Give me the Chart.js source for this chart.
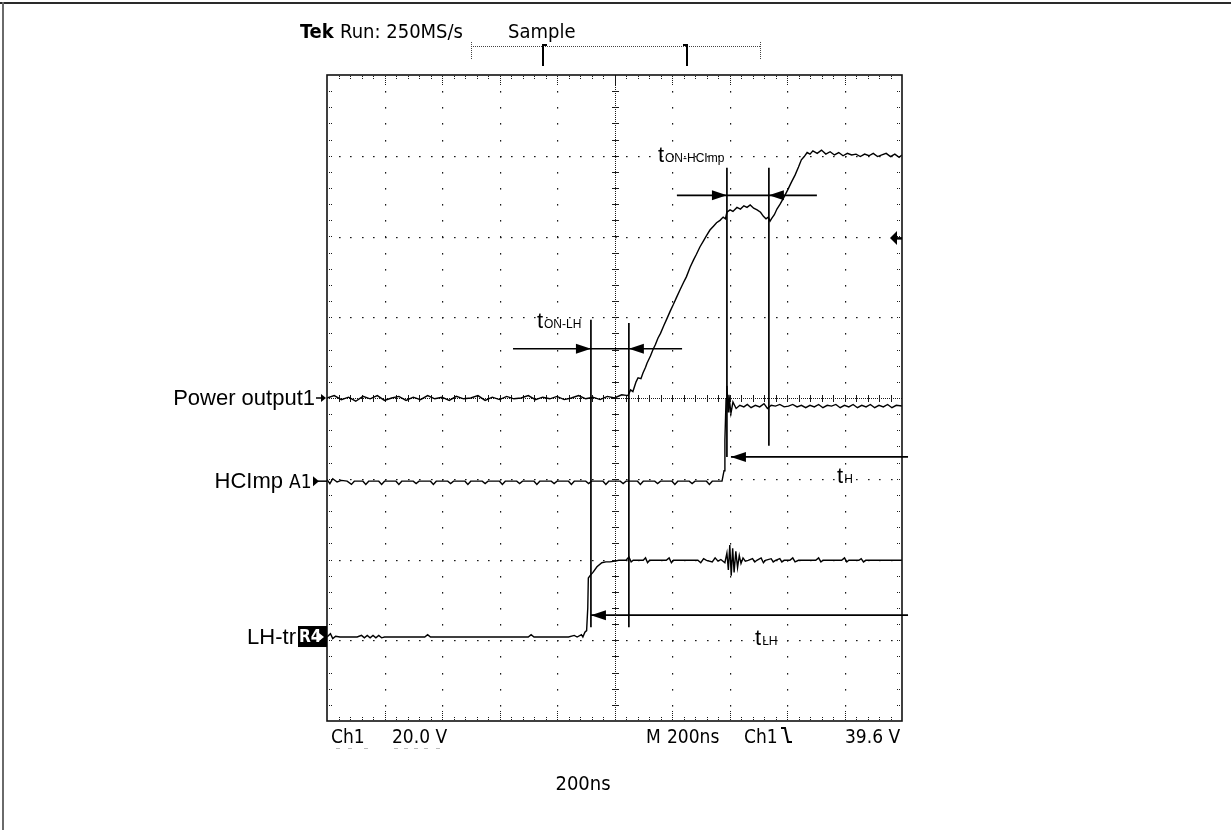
<!DOCTYPE html>
<html><head><meta charset="utf-8">
<script src="https://cdn.jsdelivr.net/npm/chart.js@4/dist/chart.umd.min.js"></script>
<style>html,body{margin:0;padding:0;background:#fff;overflow:hidden}#wrap{position:relative;width:1231px;height:830px}</style>
</head><body><div id="wrap"><canvas id="c" width="1231" height="830"></canvas></div>
<script>
// ---- screen: time in ns (200 ns/div, 10 div), level in divisions (0..8) ----
const timeTicks = [0,200,400,600,800,1000,1200,1400,1600,1800,2000];
const levelTicks = [0,1,2,3,4,5,6,7,8];

// Ch1 : Power output1
const ch1Time = [0,25,50,75,100,125,150,175,200,225,250,275,300,325,350,375,400,425,450,475,500,525,550,575,600,625,650,675,700,725,750,775,800,825,850,875,900,925,950,975,1000,1025,
 1047,1056,1064,1075,1082,1092,1099,1108,1113,1125,1134,1142,1151,1160,1172,1182,1193,1205,1215,1228,1240,1250,1263,1275,1285,1297,1310,1320,1332,1345,1355,1367,1378,1386,1391,1402,1412,1426,1438,1450,1461,1472,1484,1496,1508,1518,1527,1535,1541,1548,1556,1565,1576,1590,1603,1615,1628,1640,1650,1660,1670,1680,1690,
 1705,1720,1735,1750,1765,1780,1795,1810,1825,1840,1855,1870,1885,1900,1915,1930,1945,1960,1975,1990,2000];
const ch1Level = [4.00,4.03,3.98,4.01,3.96,4.02,3.99,4.03,3.97,4.00,4.02,3.97,4.01,3.98,4.03,3.99,4.01,3.97,4.02,3.99,4.00,4.03,3.97,4.01,3.98,4.02,3.99,4.00,4.03,3.98,4.01,3.99,4.02,3.98,4.00,4.03,3.99,4.01,3.98,4.02,4.00,4.04,
 4.03,4.10,4.08,4.20,4.25,4.24,4.31,4.38,4.43,4.52,4.60,4.66,4.74,4.80,4.90,4.98,5.07,5.16,5.24,5.34,5.43,5.50,5.62,5.71,5.78,5.87,5.95,6.01,6.08,6.13,6.17,6.20,6.24,6.22,6.30,6.33,6.31,6.36,6.34,6.38,6.36,6.39,6.35,6.33,6.30,6.25,6.22,6.24,6.19,6.23,6.27,6.34,6.40,6.49,6.58,6.67,6.76,6.86,6.95,6.99,7.04,7.02,7.06,
 7.03,7.07,7.02,7.05,7.01,7.04,7.00,7.03,7.01,7.02,6.99,7.02,7.00,7.03,6.99,7.01,7.03,6.99,7.02,6.98,7.01];

// A1 : HCImp
const ch2Time = [0,10,20,35,50,70,85,95,125,135,145,180,190,200,240,250,260,300,310,320,360,370,380,420,430,440,480,490,500,540,550,560,600,610,620,660,670,680,720,730,740,780,790,800,840,850,860,900,910,920,960,970,980,1020,1030,1040,1080,1090,1100,1140,1150,1160,1200,1210,1220,1260,1270,1280,1320,1330,1340,1374,
 1381,1384,1388,1391,1395,1398,1405,1412,1423,1436,
 1450,1462,1475,1490,1505,1520,1532,1545,1560,1575,1590,1605,1620,1635,1650,1665,1680,1695,1710,1725,1740,1755,1770,1785,1800,1815,1830,1845,1860,1875,1890,1905,1920,1935,1950,1965,1980,2000];
const ch2Level = [2.99,2.94,3.00,2.96,2.98,2.97,2.93,2.97,2.97,2.93,2.97,2.97,2.93,2.97,2.97,2.93,2.97,2.97,2.94,2.97,2.97,2.93,2.97,2.97,2.94,2.97,2.97,2.93,2.97,2.97,2.94,2.97,2.97,2.93,2.97,2.97,2.94,2.97,2.97,2.93,2.97,2.97,2.94,2.97,2.97,2.93,2.97,2.97,2.94,2.97,2.97,2.93,2.97,2.97,2.94,2.97,2.97,2.93,2.97,2.97,2.94,2.97,2.97,2.93,2.97,2.97,2.94,2.97,2.97,2.93,2.97,2.97,
 3.10,3.48,3.98,4.15,3.83,4.04,3.81,3.95,3.87,3.91,
 3.89,3.92,3.88,3.91,3.89,3.93,3.87,3.91,3.90,3.92,3.89,3.90,3.92,3.89,3.91,3.88,3.91,3.89,3.92,3.88,3.91,3.90,3.92,3.88,3.91,3.89,3.92,3.88,3.91,3.89,3.92,3.88,3.91,3.89,3.92,3.88,3.91,3.90];

// R4 : LH-tr
const ch3Time = [0,12,20,30,45,60,75,90,105,120,130,140,150,160,170,180,190,200,250,300,340,350,360,420,480,540,600,660,700,710,720,780,840,860,870,885,890,
 897,903,907,909,915,925,939,956,970,984,1002,1015,1040,1050,1058,1065,1100,1108,1115,1122,1180,1190,1198,1205,1290,1300,1310,1320,1340,1350,1360,1370,
 1384,1391,1396,1401,1406,1411,1416,1422,1428,1434,1440,1447,1455,1465,
 1480,1488,1495,1510,1518,1525,1545,1552,1560,1575,1582,1590,1610,1620,1628,1640,1700,1710,1718,1725,1790,1800,1808,1815,1850,1858,1866,1874,1950,2000];
const ch3Level = [1.04,1.08,1.02,1.05,1.04,1.04,1.04,1.04,1.04,1.06,1.03,1.06,1.03,1.06,1.03,1.06,1.03,1.04,1.04,1.04,1.04,1.07,1.04,1.04,1.04,1.04,1.04,1.04,1.04,1.07,1.04,1.04,1.04,1.06,1.04,1.07,1.04,
 1.10,1.12,1.40,1.77,1.80,1.84,1.91,1.96,1.97,1.97,1.98,1.99,1.99,2.03,1.97,1.99,1.99,2.02,1.96,1.99,1.99,2.02,1.96,1.99,1.99,1.96,2.01,1.99,1.97,2.02,1.98,2.00,
 1.96,2.08,1.87,2.18,1.80,2.14,1.84,2.10,1.90,2.05,1.95,2.02,1.98,1.99,
 2.01,1.97,1.99,2.02,1.96,1.99,2.01,1.97,1.99,2.01,1.97,1.99,1.99,2.02,1.97,1.99,1.99,2.02,1.97,1.99,1.99,2.02,1.97,1.99,1.99,2.01,1.97,1.99,1.99,1.99];

// channel markers on the left
const channelName = ['Power output1','HCImp','LH-tr'];
const channelTag = ['','A1','R4'];
const channelLevel = [4.00,2.97,1.04];
const triggerLevel = 5.98;

// measurement cursors (vertical lines)
const cursorTime = [918,1050,1391,1537];
const cursorTop = [4.97,4.93,6.85,6.85];
const cursorBottom = [1.16,1.16,3.27,3.41];

// measurement arrows
const arrowLevel = [4.61,6.51,3.27,1.31];
const arrowStart = [647,1217,2021,2021];
const arrowEnd = [1235,1704,1405,918];
const arrowTips = [[918,1050],[1391,1537],[1405],[918]];
const arrowDirs = [[1,-1],[1,-1],[-1],[-1]];

// measurement labels
const labelSub = ['ON-LH','ON-HCImp','H','LH'];
const labelTime = [730,1151,1774,1489];
const labelLevel = [4.87,6.92,2.95,0.94];

const headerBold = 'Tek';
const headerRun = 'Run: 250MS/s';
const headerMode = 'Sample';
const footerLeft = ['Ch1','20.0 V'];
const footerRight = ['M','200ns','Ch1','39.6 V'];
const footerCenter = '200ns';

const SCOPE = '"DejaVu Sans Condensed", "DejaVu Sans", sans-serif';
const ARIAL = '"Liberation Sans", Arial, sans-serif';

function series(t, v){ return t.map((x,i)=>({x:x,y:v[i]})); }

const scopePlugin = {
  id:'scope',
  beforeDraw(chart){
    const ctx = chart.ctx;
    ctx.save(); ctx.fillStyle='#fff'; ctx.fillRect(0,0,chart.width,chart.height);
    ctx.fillStyle='#2a2a2a'; ctx.fillRect(0,2,chart.width,2);
    ctx.fillStyle='#6a6a6a'; ctx.fillRect(2,2,2,chart.height);
    ctx.restore();
  },
  beforeDatasetsDraw(chart){
    const ctx = chart.ctx, xs = chart.scales.x, ys = chart.scales.y, a = chart.chartArea;
    ctx.save();
    ctx.fillStyle = '#1a1a1a';
    const minorT = 40, minorV = 0.2;
    timeTicks.forEach((t,i)=>{
      if(i===0||i===timeTicks.length-1||t===1000) return;
      const X = Math.round(xs.getPixelForValue(t));
      for(let v=minorV; v<8-0.01; v+=minorV){ ctx.fillRect(X, Math.round(ys.getPixelForValue(v)), 1.2, 1.6); }
    });
    levelTicks.forEach((v,i)=>{
      if(i===0||i===levelTicks.length-1||v===4) return;
      const Y = Math.round(ys.getPixelForValue(v));
      for(let t=minorT; t<2000-1; t+=minorT){ ctx.fillRect(Math.round(xs.getPixelForValue(t)), Y, 1.6, 1.2); }
    });
    const cx = Math.round(xs.getPixelForValue(1000)), cy = Math.round(ys.getPixelForValue(4));
    for(let y=a.top; y<a.bottom; y+=2) ctx.fillRect(cx, y, 1, 1);
    for(let v=minorV; v<8-0.01; v+=minorV) ctx.fillRect(cx-3, Math.round(ys.getPixelForValue(v)), 7, 1);
    for(let x=a.left; x<a.right; x+=2) ctx.fillRect(x, cy, 1, 1);
    for(let t=minorT; t<2000-1; t+=minorT) ctx.fillRect(Math.round(xs.getPixelForValue(t)), cy-3, 1, 7);
    for(let t=minorT; t<2000-1; t+=minorT){
      const X = Math.round(xs.getPixelForValue(t));
      const major = Math.abs((t/200)-Math.round(t/200))<1e-6;
      const len = major?9:4;
      for(let k=0;k<len;k+=2){ ctx.fillRect(X, a.top+1+k, 1, 1); ctx.fillRect(X, a.bottom-2-k, 1, 1); }
    }
    for(let v=minorV; v<8-0.01; v+=minorV){
      const Y = Math.round(ys.getPixelForValue(v));
      ctx.fillRect(a.left+2, Y, 1, 1); ctx.fillRect(a.left+4, Y, 1, 1);
      ctx.fillRect(a.right-3, Y, 1, 1); ctx.fillRect(a.right-5, Y, 1, 1);
    }
    ctx.restore();
  },
  afterDatasetsDraw(chart){
    const ctx = chart.ctx, xs = chart.scales.x, ys = chart.scales.y, a = chart.chartArea;
    const px = t=>xs.getPixelForValue(t), py = v=>ys.getPixelForValue(v);
    ctx.save();
    ctx.strokeStyle='#111'; ctx.lineWidth=1.6;
    ctx.strokeRect(a.left, a.top, a.right-a.left, a.bottom-a.top);
    // trigger level marker (right edge)
    const ty = py(triggerLevel);
    ctx.fillStyle='#000';
    ctx.beginPath(); ctx.moveTo(a.right-12, ty); ctx.lineTo(a.right-5, ty-7); ctx.lineTo(a.right-5, ty+7); ctx.closePath(); ctx.fill();
    ctx.fillRect(a.right-6, ty-1, 6, 2.5);
    // cursors
    ctx.strokeStyle='#000'; ctx.lineWidth=1.7;
    cursorTime.forEach((t,i)=>{
      ctx.beginPath(); ctx.moveTo(px(t), py(cursorTop[i])); ctx.lineTo(px(t), py(cursorBottom[i])); ctx.stroke();
    });
    // arrows
    arrowLevel.forEach((v,i)=>{
      const y = py(v);
      ctx.beginPath(); ctx.moveTo(px(arrowStart[i]), y); ctx.lineTo(px(arrowEnd[i]), y); ctx.stroke();
      arrowTips[i].forEach((t,j)=>{
        const x = px(t), d = arrowDirs[i][j];
        ctx.beginPath(); ctx.moveTo(x, y); ctx.lineTo(x-d*15, y-5); ctx.lineTo(x-d*15, y+5); ctx.closePath(); ctx.fill();
      });
    });
    // measurement labels
    ctx.textBaseline='alphabetic'; ctx.textAlign='left';
    labelSub.forEach((s,i)=>{
      const x = px(labelTime[i]), y = py(labelLevel[i]);
      ctx.font = '22px '+ARIAL; ctx.fillText('t', x, y);
      const w = ctx.measureText('t').width;
      ctx.font = '12px '+ARIAL; ctx.fillText(s, x+w+1, y);
    });
    // channel labels on the left
    channelName.forEach((n,i)=>{
      const y = py(channelLevel[i]);
      ctx.fillStyle='#000';
      if(i===0){
        ctx.font='22px '+ARIAL; ctx.textAlign='right'; ctx.textBaseline='middle';
        ctx.fillText(n, a.left-12, y+1);
        ctx.fillRect(a.left-11, y-0.75, 8, 1.5);
        ctx.beginPath(); ctx.moveTo(a.left-1, y); ctx.lineTo(a.left-6, y-4); ctx.lineTo(a.left-6, y+4); ctx.closePath(); ctx.fill();
      } else if(i===1){
        ctx.font='22px '+ARIAL; ctx.textAlign='right'; ctx.textBaseline='middle';
        ctx.fillText(n, a.left-44, y+1);
        ctx.font='19px '+SCOPE; ctx.textAlign='left';
        ctx.fillText(channelTag[i], a.left-38, y+2);
        ctx.beginPath(); ctx.moveTo(a.left-8, y); ctx.lineTo(a.left-14, y-5); ctx.lineTo(a.left-14, y+5); ctx.closePath(); ctx.fill();
        ctx.fillRect(a.left-9, y-0.75, 9, 1.5);
      } else {
        ctx.font='22px '+ARIAL; ctx.textAlign='right'; ctx.textBaseline='middle';
        ctx.fillText(n, a.left-31, y+1);
        ctx.fillRect(a.left-29, y-11, 29, 21);
        ctx.fillStyle='#fff'; ctx.font='bold 17px '+SCOPE; ctx.textAlign='left';
        ctx.fillText(channelTag[i], a.left-28, y+1);
        ctx.beginPath(); ctx.moveTo(a.left-3, y); ctx.lineTo(a.left-8, y-4); ctx.lineTo(a.left-8, y+4); ctx.closePath(); ctx.fill();
      }
    });
    // header
    ctx.fillStyle='#000'; ctx.textAlign='left'; ctx.textBaseline='alphabetic';
    ctx.font='bold 20px '+SCOPE; ctx.fillText(headerBold, 300, 38);
    const wb = ctx.measureText(headerBold+' ').width;
    ctx.font='20px '+SCOPE; ctx.fillText(headerRun, 300+wb, 38);
    ctx.fillText(headerMode, 508, 38);
    // record-length bracket
    ctx.fillStyle='#444';
    for(let x=471; x<=760; x+=2) ctx.fillRect(x, 46, 1, 1);
    for(let y=42; y<=58; y+=2){ ctx.fillRect(471, y, 1, 1); ctx.fillRect(760, y, 1, 1); }
    ctx.fillStyle='#000';
    ctx.fillRect(542, 44, 2, 22); ctx.fillRect(542, 44, 5, 2);
    ctx.fillRect(686, 44, 2, 22); ctx.fillRect(683, 44, 5, 2);
    // footer
    ctx.font='19px '+SCOPE;
    ctx.fillText(footerLeft[0], 331, 743);
    ctx.fillText(footerLeft[1], 392, 743);
    ctx.fillText(footerRight[0], 646, 743);
    ctx.fillText(footerRight[1], 667, 743);
    ctx.fillText(footerRight[2], 744, 743);
    ctx.fillText(footerRight[3], 845, 743);
    // faint clipped second line under the Ch1 readout
    ctx.fillStyle='#bbb';
    [336,348,364,394,404,414,424,436].forEach(x=>ctx.fillRect(x, 748, 4, 1));
    ctx.fillStyle='#000';
    // falling-slope symbol
    ctx.strokeStyle='#000'; ctx.lineWidth=2;
    ctx.beginPath(); ctx.moveTo(781, 728); ctx.lineTo(785, 728); ctx.lineTo(788, 742); ctx.lineTo(792, 742); ctx.stroke();
    ctx.textAlign='center';
    ctx.font='20px '+SCOPE;
    ctx.fillText(footerCenter, 583, 790);
    ctx.restore();
  }
};

const ds = (d)=>({data:d, borderColor:'#000', borderWidth:1.4, pointRadius:0, tension:0, fill:false});
new Chart(document.getElementById('c'), {
  type:'line',
  data:{ datasets:[ ds(series(ch1Time,ch1Level)), ds(series(ch2Time,ch2Level)), ds(series(ch3Time,ch3Level)) ] },
  options:{
    responsive:false, animation:false, devicePixelRatio:1,
    layout:{ padding:{ left:327, right:329, top:75, bottom:109 } },
    scales:{
      x:{ type:'linear', min:timeTicks[0], max:timeTicks[timeTicks.length-1], display:false },
      y:{ type:'linear', min:levelTicks[0], max:levelTicks[levelTicks.length-1], display:false }
    },
    plugins:{ legend:{display:false}, tooltip:{enabled:false} }
  },
  plugins:[scopePlugin]
});
</script>
</body></html>
